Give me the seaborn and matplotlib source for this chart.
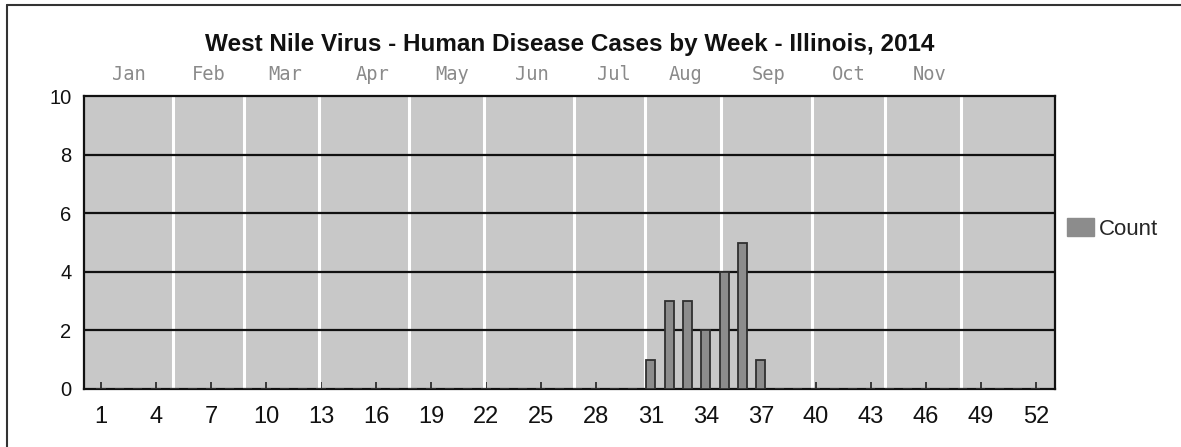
import matplotlib
matplotlib.use("Agg")
import matplotlib.pyplot as plt
import seaborn as sns
import pandas as pd
from matplotlib.lines import Line2D
from matplotlib.patches import Patch

# ---- data ----
weeks = list(range(1, 53))
case_weeks = [31, 32, 33, 34, 35, 36, 37]
case_counts = [1, 3, 3, 2, 4, 5, 1]
counts = [case_counts[case_weeks.index(w)] if w in case_weeks else 0 for w in weeks]
tick_weeks = list(range(1, 53, 3))
y_ticks = [0, 2, 4, 6, 8, 10]
month_labels = ["Jan", "Feb", "Mar", "Apr", "May", "Jun", "Jul", "Aug", "Sep", "Oct", "Nov"]
month_centers = [2.5, 6.85, 11.05, 15.8, 20.15, 24.5, 29.0, 32.9, 37.4, 41.8, 46.2]
month_bounds = [4.9, 8.8, 12.9, 17.8, 21.9, 26.8, 30.7, 34.8, 39.8, 43.8, 47.9]

df = pd.DataFrame({"week": weeks, "Count": counts})

sns.set_theme(style="white")
plt.rcParams["font.family"] = ["Liberation Sans", "DejaVu Sans"]

fig = plt.figure(figsize=(11.81, 4.47), dpi=100)
ax = fig.add_axes([84 / 1181, 1 - 389 / 447, (1055 - 84) / 1181, (389 - 96) / 447])
ax.set_facecolor("#c8c8c8")

# month boundary lines (white)
for b in month_bounds:
    ax.axvline(b, color="white", lw=2.2, zorder=1)
# horizontal grid lines
for yv in [2, 4, 6, 8]:
    ax.axhline(yv, color="#111111", lw=1.6, zorder=2)

ax.bar(df["week"], df["Count"], width=0.5, color="#8c8c8c",
       edgecolor="#303030", linewidth=1.3, zorder=3)

ax.set_xlim(0.07, 53.05)
ax.set_ylim(0, 10)
ax.set_xticks(tick_weeks)
ax.set_xticklabels([str(t) for t in tick_weeks], fontsize=17, color="#111111")
ax.set_yticks(y_ticks)
ax.set_yticklabels([str(t) for t in y_ticks], fontsize=14.5, color="#111111")
ax.tick_params(axis="x", direction="in", length=5, width=1.2, color="#222222", pad=12, bottom=True)
ax.tick_params(axis="y", length=0, pad=9)
for sp in ax.spines.values():
    sp.set_visible(True)
    sp.set_color("#111111")
    sp.set_linewidth(1.6)

# month labels above the plot
for m, c in zip(month_labels, month_centers):
    ax.text(c, 10.72, m, ha="center", va="center", fontsize=13.5,
            family="DejaVu Sans Mono", color="#8a8a8a", transform=ax.transData, clip_on=False)

fig.text(570 / 1181, 1 - 44 / 447, "West Nile Virus - Human Disease Cases by Week - Illinois, 2014",
         ha="center", va="center", fontsize=17.5, fontweight="bold", color="#111111")

# legend
handles = [Patch(facecolor="#8c8c8c", edgecolor="#8c8c8c", label="Count")]
fig.legend(handles=handles, loc="center left", bbox_to_anchor=(1058 / 1181, 1 - 229 / 447),
           frameon=False, fontsize=16, handlelength=1.2, handleheight=0.9,
           handletextpad=0.25, borderaxespad=0)

# scanned figure border (left and top)
fig.add_artist(Line2D([7 / 1181, 7 / 1181], [0, 1 - 5 / 447], color="#333333", lw=1.5))
fig.add_artist(Line2D([7 / 1181, 1], [1 - 5 / 447, 1 - 5 / 447], color="#333333", lw=1.5))

fig.savefig("out.png", dpi=100)
